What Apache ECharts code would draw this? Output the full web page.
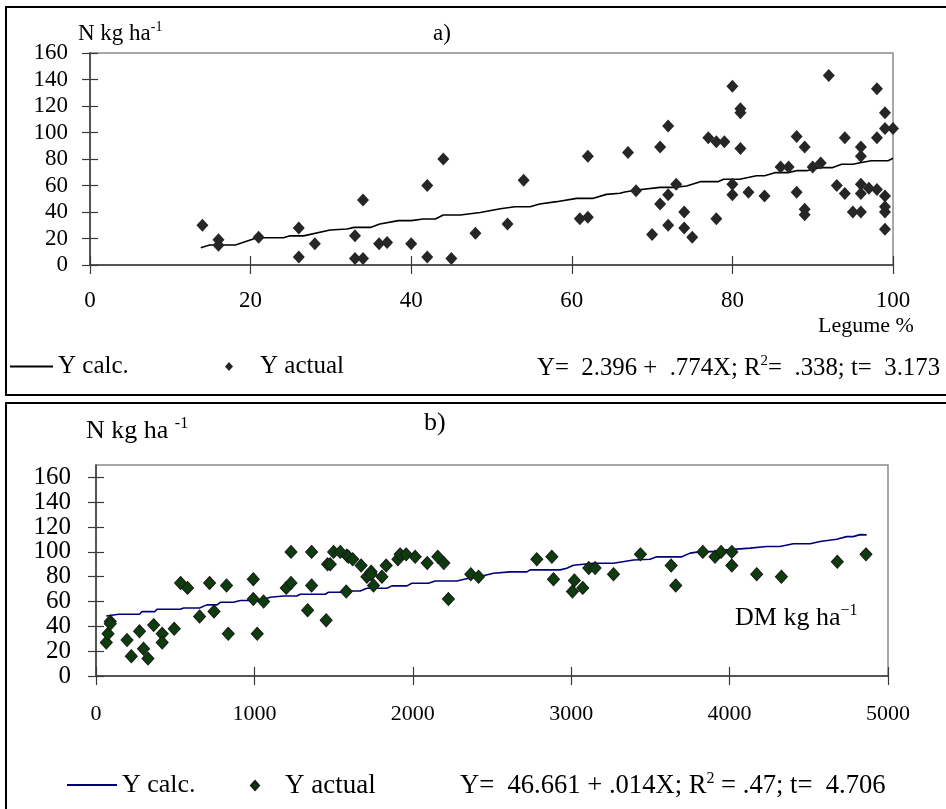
<!DOCTYPE html>
<html><head><meta charset="utf-8">
<script src="https://cdn.jsdelivr.net/npm/echarts@6/dist/echarts.min.js"></script>
<style>html,body{margin:0;padding:0;background:#fff}#c{width:946px;height:809px}</style>
</head><body><div id="c"></div><script>
// ---------- Panel a: N vs Legume % ----------
var aActualX = [14,16,16,21,26,26,28,33,33,34,34,36,37,40,42,42,44,45,48,52,54,61,62,62,67,68,70,71,71,72,72,72,73,74,74,75,77,78,78,79,80,80,80,81,81,81,82,84,86,87,88,88,89,89,89,90,91,92,93,94,94,95,96,96,96,96,96,97,98,98,98,99,99,99,99,99,99,100];
var aActualY = [30,19,15,21,28,6,16,22,5,5,49,16,17,16,60,6,80,5,24,31,64,35,36,82,85,56,23,89,46,105,53,30,61,40,28,21,96,93,35,93,135,61,53,118,115,88,55,52,74,74,97,55,89,42,38,74,77,143,60,96,54,40,89,82,61,54,40,58,133,96,57,115,103,52,44,40,27,103];
var aCalcX = [13.8,14.9,18.1,20.8,24.1,24.9,26.6,29.9,32,32.9,35,36.1,38.4,40,41.5,43,44,46.1,48.6,51.1,52.9,54.8,56,58.1,60.6,62.7,64.3,66,66.6,68.1,71,72.6,74.3,76,78.2,78.9,80.9,83,84,85.3,86.9,88,89.2,90.9,92.5,93.6,95,95.9,97.3,99.4,100];
var aCalcY = [13.1,15.1,15.1,20.6,20.6,22,22,26.4,27.2,28.4,28.4,30.9,33.5,33.5,34.7,34.7,37.7,37.7,39.6,42.5,44,44,46,47.8,50.3,50.3,53.3,54.1,55.1,56.6,58.6,58.6,59.6,62.9,62.9,64.7,64.7,67.4,67.4,69.7,69.7,71.2,71.2,73.5,73.5,76,76,77.2,78.7,78.7,80.5];
var aXTicks = [0,20,40,60,80,100];
var aYTicks = [0,20,40,60,80,100,120,140,160];

// ---------- Panel b: N vs DM ----------
var bActualX = [65,76,90,90,196,223,275,300,328,364,418,418,494,534,578,654,717,745,824,835,993,993,1058,1018,1201,1231,1231,1336,1361,1361,1453,1462,1479,1500,1542,1584,1594,1621,1580,1674,1710,1737,1737,1752,1805,1832,1906,1920,1958,2015,2091,2158,2196,2225,2366,2415,2783,2878,2888,3008,3020,3073,3111,3151,3267,3437,3631,3660,3831,3908,3946,4014,4014,4171,4327,4680,4861];
var bActualY = [27,34,44,42,29,16,36,22,14,41,34,27,38,75,71,48,75,52,73,34,78,62,60,34,71,75,100,53,73,100,45,90,90,100,100,97,96,94,68,89,80,84,82,73,80,89,94,98,98,96,91,96,91,62,82,80,94,96,78,68,77,71,87,87,82,98,89,73,100,96,100,100,89,82,80,92,98];
var bCalcX = [65,143,275,290,372,385,532,553,654,700,764,785,868,911,1037,1100,1184,1268,1289,1447,1468,1552,1584,1668,1710,1836,1868,1963,1994,2099,2141,2278,2331,2425,2509,2615,2720,2741,2930,2972,3014,3140,3267,3393,3498,3540,3698,3751,3814,3919,3982,4129,4234,4318,4402,4508,4571,4676,4739,4781,4823,4865];
var bCalcY = [48.4,49.8,49.8,51.9,51.9,53.8,53.8,54.8,54.8,57.3,57.3,59.4,59.4,60.8,60.8,63.5,64.5,64.5,65.9,65.9,67.5,67.5,68.5,68.5,70.7,70.7,72.6,72.6,74.7,74.7,76.6,76.6,78.2,80.1,82.8,83.9,83.9,85.5,85.5,86.8,89.2,90.9,90.9,93.5,94.1,96,96,99,100.2,100.2,101.6,103,104.3,104.3,106.5,106.5,108.3,110.2,112.3,112.3,113.9,113.7];
var bXTicks = [0,1000,2000,3000,4000,5000];
var bYTicks = [0,20,40,60,80,100,120,140,160];

var legendNames = {aCalc:'Y calc.', aAct:'Y actual', bCalc:'Y calc.', bAct:'Y actual'};

function zip(xs, ys){ return xs.map(function(x,i){ return [x, ys[i]]; }); }

var FONT = '"Liberation Serif", "Times New Roman", serif';
var AX = '#3a3a3a';

function xAx(grid, min, max, interval, ticks, inside, fs, margin){
  return {
    type:'value', gridIndex:grid, min:min, max:max, interval:interval, position:'bottom',
    axisLine:{show:!inside, lineStyle:{color:AX, width:1.5}},
    axisTick:{show:true, inside:inside, length:9, customValues:ticks, lineStyle:{color:AX, width:1.2}},
    axisLabel:{show:!inside, customValues:ticks, margin:margin, fontFamily:FONT, fontSize:fs, color:'#000',
      formatter:function(v){ return String(v); }},
    splitLine:{show:false}
  };
}
function yAx(grid, min, max, interval, ticks, inside, fs, margin){
  return {
    type:'value', gridIndex:grid, min:min, max:max, interval:interval, position:'left',
    axisLine:{show:!inside, lineStyle:{color:AX, width:1.5}},
    axisTick:{show:true, inside:inside, length:8, customValues:ticks, lineStyle:{color:AX, width:1.2}},
    axisLabel:{show:!inside, customValues:ticks, margin:margin, fontFamily:FONT, fontSize:fs, color:'#000',
      formatter:function(v){ return ticks.indexOf(v) >= 0 ? String(v) : ''; }},
    splitLine:{show:false}
  };
}

function ttl(text, left, top, fs){
  var sup = Math.round(fs*0.62);
  var rich = {
    n:{fontFamily:FONT, fontSize:fs, fontWeight:'normal', color:'#000', lineHeight:fs+4},
    s:{fontFamily:FONT, fontSize:sup, fontWeight:'normal', color:'#000', lineHeight:sup, verticalAlign:'top'}
  };
  return {text:text, left:left, top:top, padding:0,
    textStyle:{rich:rich, fontFamily:FONT, fontSize:fs, fontWeight:'normal', color:'#000'}};
}

function legText(fs, gap){
  return {fontFamily:FONT, fontSize:fs, fontWeight:'normal', color:'#000', lineHeight:fs+4,
    rich:{g:{width:gap, fontSize:fs, lineHeight:fs+4}}};
}

var option = {
  animation:false,
  backgroundColor:'#fff',
  title:[
    ttl('{n|N kg ha}{s|-1}', 78, 20, 23),
    ttl('{n|a)}', 433, 20, 23),
    ttl('{n|Legume %}', 818, 313, 22),
    ttl('{n|Y=  2.396 +  .774X; R}{s|2}{n|=  .338; t=  3.173}', 537, 354, 24.8),
    ttl('{n|N kg ha }{s|-1}', 86, 416, 26),
    ttl('{n|b)}', 424, 408, 26),
    ttl('{n|DM kg ha}{s|\u22121}', 735, 603, 26),
    ttl('{n|Y=  46.661 + .014X; R}{s|2}{n| = .47; t=  4.706}', 460, 771, 26.6)
  ],
  graphic:[
    {type:'rect', silent:true, shape:{x:6, y:7, width:1000, height:388}, style:{fill:'none', stroke:'#000', lineWidth:2}},
    {type:'rect', silent:true, shape:{x:6, y:403, width:1000, height:500}, style:{fill:'none', stroke:'#000', lineWidth:2}}
  ],
  legend:[
    {data:[{name:'aCalc', icon:'rect'}], left:10, top:352, itemWidth:43, itemHeight:2, padding:0,
      formatter:function(n){return legendNames[n];}, textStyle:legText(25, 0), selectedMode:false},
    {data:[{name:'aAct', icon:'diamond'}], left:225, top:352, itemWidth:8, itemHeight:9, padding:0,
      formatter:function(n){return '{g| }'+legendNames[n];}, textStyle:legText(25, 22), selectedMode:false},
    {data:[{name:'bCalc', icon:'rect'}], left:67, top:770, itemWidth:50, itemHeight:2, padding:0,
      formatter:function(n){return legendNames[n];}, textStyle:legText(26, 0), selectedMode:false},
    {data:[{name:'bAct', icon:'diamond'}], left:250, top:770, itemWidth:8, itemHeight:9, padding:0,
      formatter:function(n){return '{g| }'+legendNames[n];}, textStyle:legText(27, 21), selectedMode:false}
  ],
  grid:[
    {left:90, top:53, width:803, height:212, show:true, borderColor:'#8c8c8c', borderWidth:1.5, backgroundColor:'transparent'},
    {left:96, top:465, width:792, height:211, show:true, borderColor:'#8c8c8c', borderWidth:1.5, backgroundColor:'transparent'}
  ],
  xAxis:[
    xAx(0, 0, 100, 20, aXTicks, false, 23, 24),
    xAx(1, 0, 5000, 1000, bXTicks, false, 22, 27),
    xAx(0, 0, 100, 20, aXTicks, true, 23, 24),
    xAx(1, 0, 5000, 1000, bXTicks, true, 22, 27)
  ],
  yAxis:[
    yAx(0, 0, 160, 20, aYTicks, false, 23, 22),
    yAx(1, 0, 170, 10, bYTicks, false, 25, 25),
    yAx(0, 0, 160, 20, aYTicks, true, 23, 22),
    yAx(1, 0, 170, 10, bYTicks, true, 25, 25)
  ],
  series:[
    {name:'aCalc', type:'line', xAxisIndex:0, yAxisIndex:0, data:zip(aCalcX, aCalcY), showSymbol:false, symbol:'none',
      lineStyle:{color:'#000', width:1.6}, itemStyle:{color:'#000'}, z:3},
    {name:'aAct', type:'scatter', xAxisIndex:0, yAxisIndex:0, data:zip(aActualX, aActualY), symbol:'diamond', symbolSize:[12,13],
      itemStyle:{color:'#262626', opacity:1}, z:4},
    {name:'bCalc', type:'line', xAxisIndex:1, yAxisIndex:1, data:zip(bCalcX, bCalcY), showSymbol:false, symbol:'none',
      lineStyle:{color:'#00007f', width:1.6}, itemStyle:{color:'#00007f'}, z:3},
    {name:'bAct', type:'scatter', xAxisIndex:1, yAxisIndex:1, data:zip(bActualX, bActualY), symbol:'diamond', symbolSize:[12,13],
      itemStyle:{color:'#0d3d0d', borderColor:'#1a1a1a', borderWidth:1, opacity:1}, z:4}
  ]
};
var chart = echarts.init(document.getElementById('c'), null, {renderer:'canvas'});
chart.setOption(option);
</script></body></html>
